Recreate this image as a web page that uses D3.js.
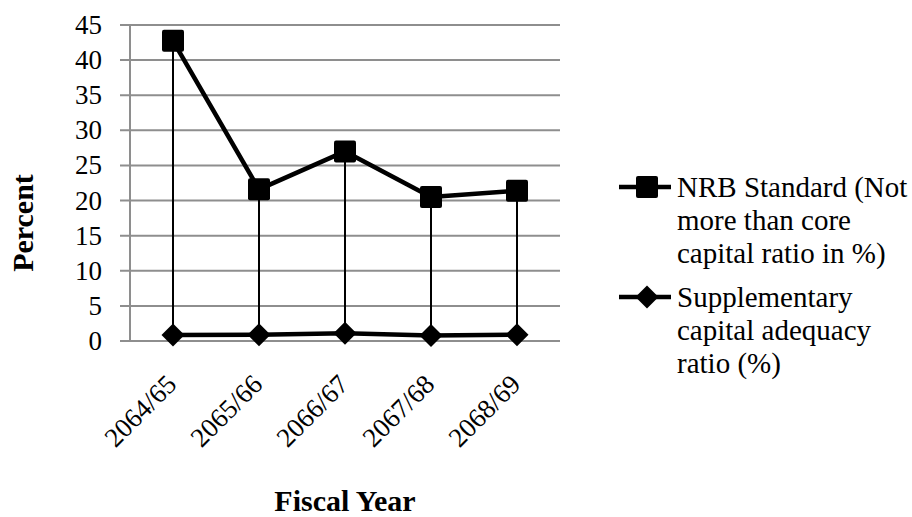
<!DOCTYPE html>
<html>
<head>
<meta charset="utf-8">
<script src="https://cdn.jsdelivr.net/npm/d3@7"></script>
<style>
  html, body { margin: 0; padding: 0; background: #fff; }
  svg { display: block; }
  svg text.lbl { font-family: "Liberation Serif", "Times New Roman", Tinos, serif !important; }
</style>
</head>
<body>
<svg id="chart" width="912" height="517" font-family="Liberation Serif"></svg>
<script>
// Fiscal years on the category axis
const categories = ["2064/65", "2065/66", "2066/67", "2067/68", "2068/69"];
// NRB Standard (not more than core capital ratio, %)
const nrbStandard = [42.75, 21.6, 27.0, 20.5, 21.4];
// Supplementary capital adequacy ratio (%)
const supplementary = [0.85, 0.9, 1.1, 0.8, 0.9];
// Value-axis ticks
const yTicks = [0, 5, 10, 15, 20, 25, 30, 35, 40, 45];

const seriesNames = [
  ["NRB Standard (Not", "more than core", "capital ratio in %)"],
  ["Supplementary", "capital adequacy", "ratio (%)"]
];

const svg = d3.select("#chart");
const plot = { left: 130, right: 560, top: 25, bottom: 341 };

const x = d3.scaleBand().domain(categories).range([plot.left, plot.right]).padding(0);
const y = d3.scaleLinear().domain([0, 45]).range([plot.bottom, plot.top]);
const cx = c => x(c) + x.bandwidth() / 2;

// Serif text styling, forced so nothing else can swap the family
const label = (sel, size, bold) => sel
  .classed("lbl", true)
  .style("font-family", "'Liberation Serif', 'Times New Roman', Tinos, serif", "important")
  .style("font-size", size + "px", "important")
  .style("font-weight", bold ? "700" : "400", "important")
  .style("font-style", "normal", "important")
  .attr("fill", "#000");

// Horizontal gridlines, each with a short stub left of the value axis
svg.selectAll("line.grid").data(yTicks).join("line")
  .attr("class", "grid")
  .attr("x1", plot.left - 10).attr("x2", plot.right)
  .attr("y1", d => y(d)).attr("y2", d => y(d))
  .attr("stroke", "#8e8e8e").attr("stroke-width", 2);

// Vertical value axis line
svg.append("line")
  .attr("x1", plot.left).attr("x2", plot.left)
  .attr("y1", y(45)).attr("y2", y(0))
  .attr("stroke", "#8e8e8e").attr("stroke-width", 2);

// Value tick labels
svg.selectAll("text.ytick").data(yTicks).join("text")
  .attr("class", "ytick")
  .attr("x", 102).attr("y", d => y(d) + 9)
  .attr("text-anchor", "end")
  .call(label, 27, false)
  .text(d => d);

// Category tick labels, slanted
svg.selectAll("text.xtick").data(categories).join("text")
  .attr("class", "xtick")
  .attr("transform", d => `translate(${cx(d) + 5},${plot.bottom + 45}) rotate(-45)`)
  .attr("text-anchor", "end")
  .call(label, 27, false)
  .text(d => d);

// Axis titles
svg.append("text")
  .attr("transform", `translate(33,223) rotate(-90)`)
  .attr("text-anchor", "middle")
  .call(label, 30, true)
  .text("Percent");

svg.append("text")
  .attr("x", 345).attr("y", 511)
  .attr("text-anchor", "middle")
  .call(label, 30, true)
  .text("Fiscal Year");

// Drop lines from each NRB point to the category axis
svg.selectAll("line.drop").data(categories).join("line")
  .attr("class", "drop")
  .attr("x1", d => cx(d)).attr("x2", d => cx(d))
  .attr("y1", (d, i) => y(nrbStandard[i]))
  .attr("y2", y(0))
  .attr("stroke", "#000").attr("stroke-width", 2);

const line = d3.line().x(d => cx(d.c)).y(d => y(d.v));
const pts = arr => categories.map((c, i) => ({ c, v: arr[i] }));

// Series lines
svg.append("path").datum(pts(nrbStandard))
  .attr("d", line).attr("fill", "none")
  .attr("stroke", "#000").attr("stroke-width", 4.5).attr("stroke-linejoin", "round");
svg.append("path").datum(pts(supplementary))
  .attr("d", line).attr("fill", "none")
  .attr("stroke", "#000").attr("stroke-width", 4.5).attr("stroke-linejoin", "round");

// Markers
const sq = 22;
svg.selectAll("rect.nrb").data(pts(nrbStandard)).join("rect")
  .attr("class", "nrb")
  .attr("x", d => cx(d.c) - sq / 2).attr("y", d => y(d.v) - sq / 2)
  .attr("width", sq).attr("height", sq).attr("rx", 2)
  .attr("fill", "#000");

const dm = 11.5;
const diamond = (px, py) => `M${px},${py - dm}L${px + dm},${py}L${px},${py + dm}L${px - dm},${py}Z`;
svg.selectAll("path.supp").data(pts(supplementary)).join("path")
  .attr("class", "supp")
  .attr("d", d => diamond(cx(d.c), y(d.v)))
  .attr("fill", "#000");

// Legend
const legendRows = [
  { y: 187, kind: "square", lines: seriesNames[0] },
  { y: 297, kind: "diamond", lines: seriesNames[1] }
];
legendRows.forEach((r, ri) => {
  svg.append("line")
    .attr("x1", 619).attr("x2", 671).attr("y1", r.y).attr("y2", r.y)
    .attr("stroke", "#000").attr("stroke-width", 4.5);
  if (r.kind === "square") {
    svg.append("rect")
      .attr("x", 647 - sq / 2).attr("y", r.y - sq / 2)
      .attr("width", sq).attr("height", sq).attr("rx", 2).attr("fill", "#000");
  } else {
    svg.append("path").attr("d", diamond(647, r.y)).attr("fill", "#000");
  }
  svg.selectAll(`text.legend${ri}`).data(r.lines).join("text")
    .attr("class", `legend${ri}`)
    .attr("x", 677).attr("y", (s, k) => r.y + 10 + k * 33)
    .call(label, 29, false)
    .text(s => s);
});
</script>
</body>
</html>
